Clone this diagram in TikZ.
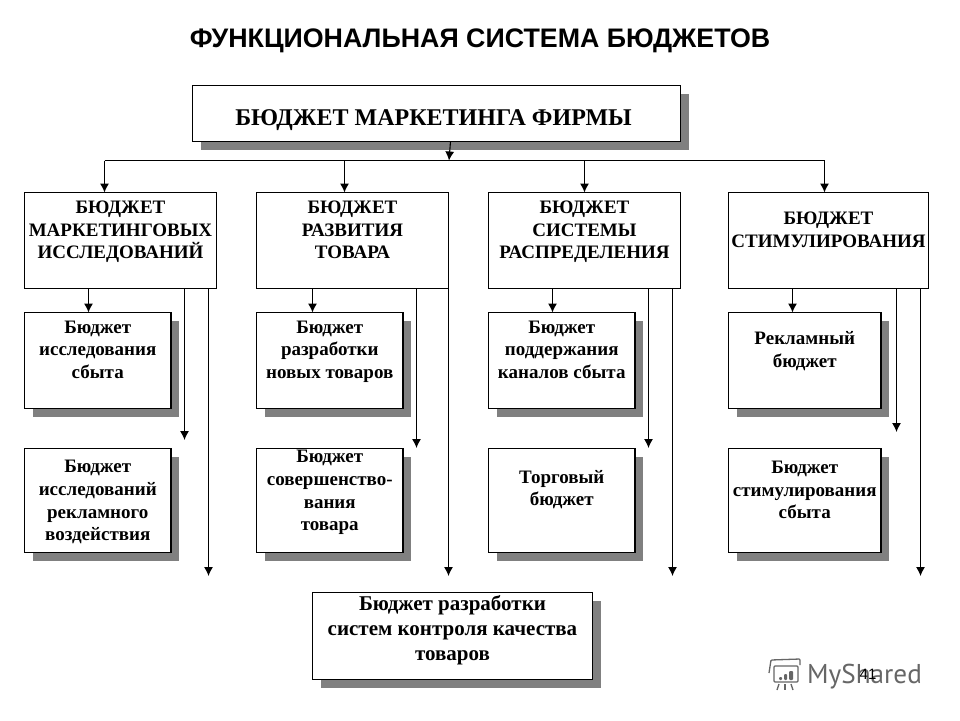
\documentclass[tikz,border=0pt]{standalone}
\usepackage{fontspec}
\setmainfont{Liberation Serif}
\setsansfont{Liberation Sans}
\newfontfamily\logofont{PT Sans}
\usetikzlibrary{arrows.meta,positioning,shadows}

\begin{document}
\begin{tikzpicture}[
      x=1pt,y=-1pt,
      box/.style={draw,line width=1.1pt,anchor=north west,align=center,inner sep=0pt,outer sep=0pt,fill=white,
        font=\fontsize{19}{22.6}\selectfont\bfseries},
      shadowbox/.style={box,drop shadow={shadow xshift=8pt,shadow yshift=-8pt,fill=black!50,opacity=1}},
      headbox/.style={box,minimum height=96pt},
      subbox/.style={shadowbox,minimum width=146.5pt,minimum height=96pt},
      lowbox/.style={shadowbox,minimum width=146.5pt,minimum height=104pt},
      lift/.style={text depth=#1pt},
      arr/.style={-{Latex[length=9pt,width=9pt]},line width=1.1pt}
    ]
      \useasboundingbox (0,0) rectangle (960,720);

      \node[font=\fontsize{26.8}{30}\selectfont\sffamily\bfseries] (title) at (480,41) {ФУНКЦИОНАЛЬНАЯ СИСТЕМА БЮДЖЕТОВ};

      \node[shadowbox,minimum width=488pt,minimum height=56pt,text height=29pt,font=\fontsize{24}{28}\selectfont\bfseries] (top) at (192.5,85.5) {БЮДЖЕТ МАРКЕТИНГА ФИРМЫ\hspace{6pt}};

      % first row
      \node[headbox,minimum width=192pt,lift=21] (head1) at (24.5,192.5) {БЮДЖЕТ\\МАРКЕТИНГОВЫХ\\ИССЛЕДОВАНИЙ};
      \node[headbox,minimum width=192pt,lift=21] (head2) at (256.5,192.5) {БЮДЖЕТ\\РАЗВИТИЯ\\ТОВАРА};
      \node[headbox,minimum width=192pt,lift=21] (head3) at (488.5,192.5) {БЮДЖЕТ\\СИСТЕМЫ\\РАСПРЕДЕЛЕНИЯ};
      \node[headbox,minimum width=200pt,lift=22] (head4) at (728.5,192.5) {БЮДЖЕТ\\СТИМУЛИРОВАНИЯ};

      % second row
      \node[subbox,lift=22] (sub1) at (24.5,312.5) {Бюджет\\исследования\\сбыта};
      \node[subbox,lift=22] (sub2) at (256.5,312.5) {Бюджет\\разработки\\новых товаров};
      \node[subbox,lift=22] (sub3) at (488.5,312.5) {Бюджет\\поддержания\\каналов сбыта};
      \node[subbox,minimum width=152.5pt,lift=22] (sub4) at (728.5,312.5) {Рекламный\\бюджет};

      % third row
      \node[lowbox,lift=0] (low1) at (24.5,448.5) {Бюджет\\исследований\\рекламного\\воздействия};
      \node[lowbox,lift=20] (low2) at (256.5,448.5) {Бюджет\\совершенство-\\вания\\товара};
      \node[lowbox,lift=25] (low3) at (488.5,448.5) {Торговый\\бюджет};
      \node[lowbox,minimum width=152.5pt,lift=21] (low4) at (728.5,448.5) {Бюджет\\стимулирования\\сбыта};

      \node[shadowbox,minimum width=280pt,minimum height=87pt,lift=17,font=\fontsize{21}{25}\selectfont\bfseries] (bottom) at (312.5,592.5) {Бюджет разработки\hspace{4pt}\\систем контроля качества\hspace{6pt}\\товаров};

      % bus
      \coordinate (bus) at (449,160.5);
      \draw[arr] ([xshift=258pt]top.south west) -- (bus);
      \draw[line width=1.1pt] ([xshift=80pt]head1.north west |- bus) -- ([xshift=96pt]head4.north west |- bus);
      \draw[arr] ([xshift=80pt]head1.north west |- bus) -- ([xshift=80pt]head1.north west);
      \draw[arr] ([xshift=88pt]head2.north west |- bus) -- ([xshift=88pt]head2.north west);
      \draw[arr] ([xshift=96pt]head3.north west |- bus) -- ([xshift=96pt]head3.north west);
      \draw[arr] ([xshift=96pt]head4.north west |- bus) -- ([xshift=96pt]head4.north west);

      % down to second row
      \draw[arr] ([xshift=64pt]head1.south west) -- ([xshift=64pt]sub1.north west);
      \draw[arr] ([xshift=56pt]head2.south west) -- ([xshift=56pt]sub2.north west);
      \draw[arr] ([xshift=64pt]head3.south west) -- ([xshift=64pt]sub3.north west);
      \draw[arr] ([xshift=64pt]head4.south west) -- ([xshift=64pt]sub4.north west);

      % free ends
      \coordinate (end1) at (184.5,440);
      \coordinate (end2) at (416.5,448);
      \coordinate (end3) at (648.5,448);
      \coordinate (end4) at (896.5,432);
      \coordinate (far1) at (208.5,576);
      \coordinate (far2) at (448.5,576);
      \coordinate (far3) at (672.5,576);
      \coordinate (far4) at (920.5,576);
      \draw[arr] (end1 |- head1.south) -- (end1);
      \draw[arr] (end2 |- head2.south) -- (end2);
      \draw[arr] (end3 |- head3.south) -- (end3);
      \draw[arr] (end4 |- head4.south) -- (end4);
      \draw[arr] (far1 |- head1.south) -- (far1);
      \draw[arr] (far2 |- head2.south) -- (far2);
      \draw[arr] (far3 |- head3.south) -- (far3);
      \draw[arr] (far4 |- head4.south) -- (far4);

      % watermark
      \begin{scope}[draw=black!60,line width=1.3pt,rounded corners=1pt]
        \draw (774,666) rectangle (798,682);
        \draw (769,673) -- (771,660) -- (800,659) -- (800,665);
        \draw (779,684) -- (777,690);
        \draw (785,684) -- (785,690);
        \draw (791,684) -- (793,690);
        \fill[black!60] (779,677) rectangle (782,680);
        \fill[black!60] (784,674) rectangle (787,680);
        \fill[black!60] (789,671) rectangle (793,680);
      \end{scope}
      \node[anchor=base west,inner sep=0pt,text=black!60,font=\fontsize{27.2}{30}\selectfont\logofont] (logo) at (807,683) {MyShared};
      \node[font=\fontsize{15}{18}\selectfont\sffamily] (page) at (868,674) {41};
    \end{tikzpicture}
\end{document}
